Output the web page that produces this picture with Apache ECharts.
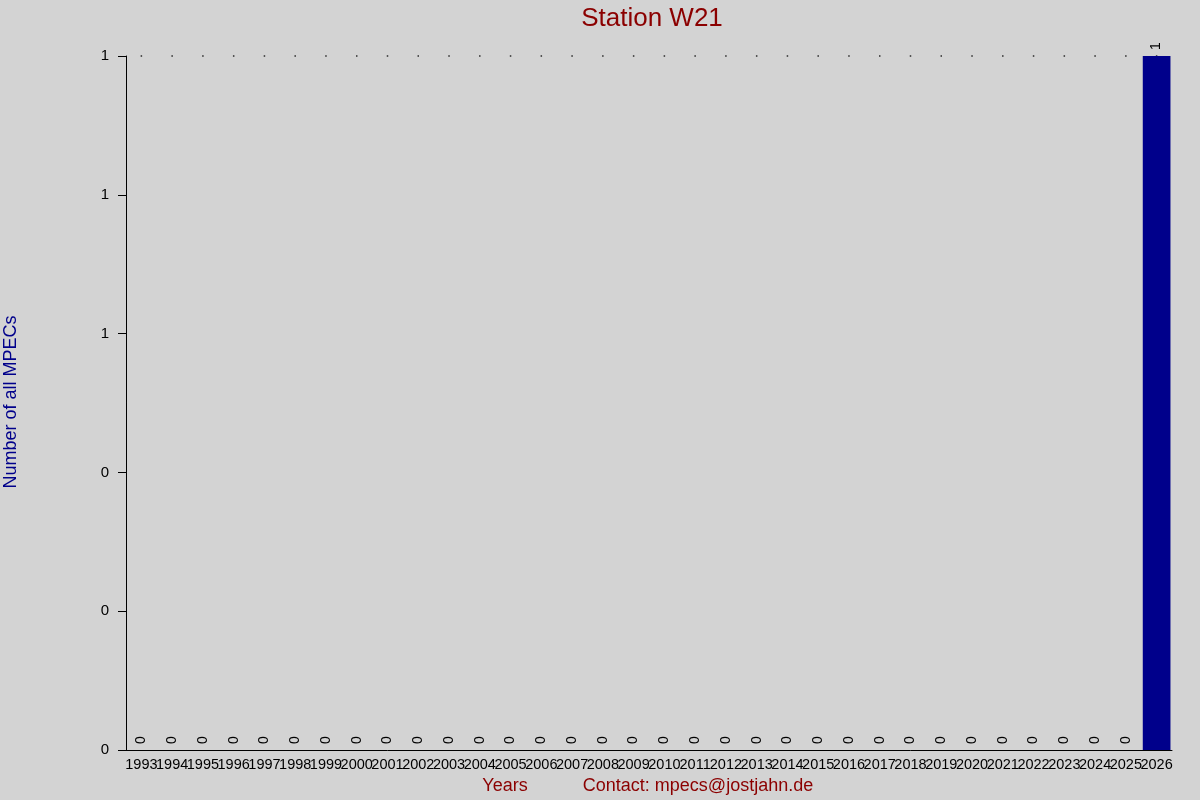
<!DOCTYPE html>
<html>
<head>
<meta charset="utf-8">
<script src="https://cdn.jsdelivr.net/npm/echarts@6/dist/echarts.min.js"></script>
<style>
html,body{margin:0;padding:0;background:#d3d3d3;}
#chart{width:1200px;height:800px;}
</style>
</head>
<body>
<div id="chart"></div>
<script>
const years = ['1993','1994','1995','1996','1997','1998','1999','2000','2001','2002','2003','2004','2005','2006','2007','2008','2009','2010','2011','2012','2013','2014','2015','2016','2017','2018','2019','2020','2021','2022','2023','2024','2025','2026'];
const mpecCounts = [0,0,0,0,0,0,0,0,0,0,0,0,0,0,0,0,0,0,0,0,0,0,0,0,0,0,0,0,0,0,0,0,0,1];
const yTicks = {min: 0, max: 1, interval: 0.2};
const titleText = 'Station W21';
const xName = 'Years';
const contactText = 'Contact: mpecs@jostjahn.de';
const yName = 'Number of all MPECs';

const maxVal = Math.max(...mpecCounts);
const topDots = years.map(() => maxVal);

const chart = echarts.init(document.getElementById('chart'));
const font = 'Liberation Sans, Arial, sans-serif';
chart.setOption({
  backgroundColor: '#d3d3d3',
  animation: false,
  title: {
    text: titleText,
    left: 647, top: 1, textAlign: 'center',
    textStyle: {color: '#8b0000', fontSize: 26, fontWeight: 'normal', fontFamily: font}
  },
  grid: {left: 126, right: 28, top: 56, bottom: 50, containLabel: false},
  xAxis: {
    type: 'category',
    data: years,
    axisLine: {lineStyle: {color: '#000', width: 1}},
    axisTick: {show: false},
    axisLabel: {interval: 0, hideOverlap: false, color: '#000', fontSize: 14.5, fontFamily: font, margin: 7}
  },
  yAxis: {
    type: 'value',
    min: yTicks.min, max: yTicks.max, interval: yTicks.interval,
    axisLine: {show: true, lineStyle: {color: '#000', width: 1}},
    axisTick: {show: true, length: 8, lineStyle: {color: '#000'}},
    splitLine: {show: false},
    axisLabel: {color: '#000', fontSize: 15, fontFamily: font, margin: 17,
      formatter: v => Number(v).toFixed(0)}
  },
  graphic: [
    {type: 'text', x: 505, y: 786, style: {text: xName, fill: '#8b0000', font: '18px ' + font, align: 'center', verticalAlign: 'middle', textAlign: 'center', textVerticalAlign: 'middle'}},
    {type: 'text', x: 698, y: 786, style: {text: contactText, fill: '#8b0000', font: '18px ' + font, align: 'center', verticalAlign: 'middle', textAlign: 'center', textVerticalAlign: 'middle'}},
    {type: 'text', x: 11, y: 402, rotation: Math.PI / 2, style: {text: yName, fill: '#00008b', font: '18px ' + font, align: 'center', verticalAlign: 'middle', textAlign: 'center', textVerticalAlign: 'middle'}}
  ],
  series: [
    {
      type: 'scatter',
      data: topDots,
      symbol: 'rect',
      symbolSize: 1.5,
      itemStyle: {color: '#000'},
      silent: true,
      z: 1
    },
    {
      type: 'bar',
      data: mpecCounts,
      barWidth: '90%',
      itemStyle: {color: '#00008b'},
      z: 2,
      label: {
        show: true,
        position: 'top',
        distance: 6,
        rotate: 90,
        align: 'left',
        verticalAlign: 'middle',
        color: '#000',
        fontSize: 14,
        fontFamily: font
      }
    }
  ]
});
</script>
</body>
</html>
